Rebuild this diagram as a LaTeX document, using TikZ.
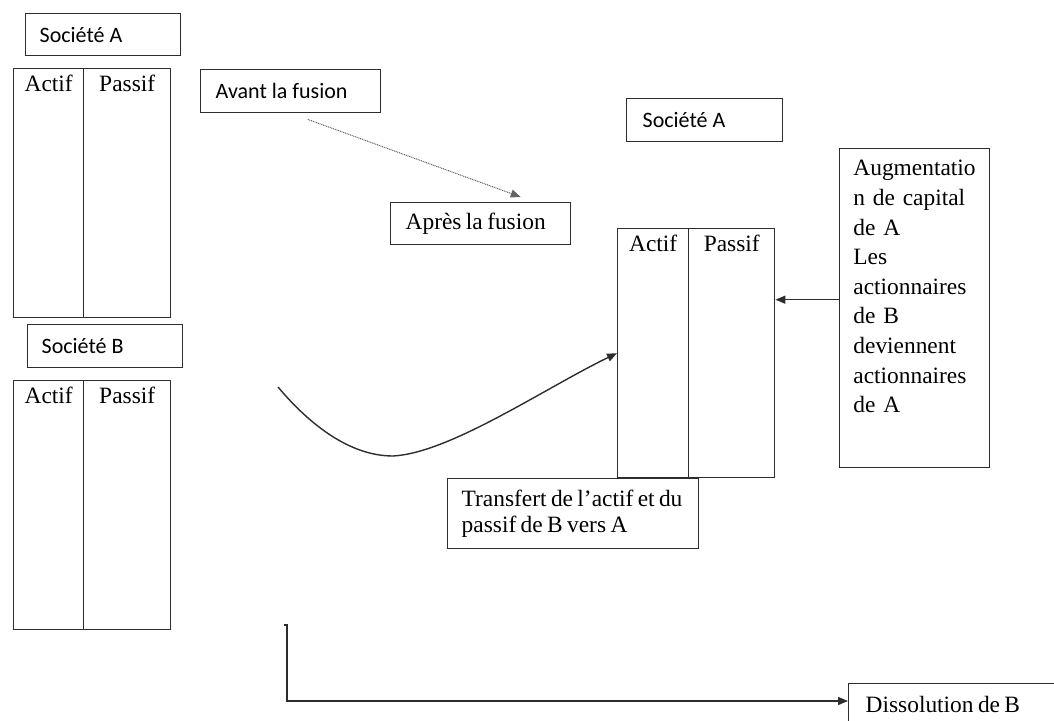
\documentclass[tikz,border=0pt]{standalone}
\usepackage{fontspec}
\setmainfont{Liberation Serif}
\newfontfamily\calib{Carlito}
\newfontfamily\serre[WordSpace=0.75]{Liberation Serif}
\usetikzlibrary{arrows.meta,calc}
\definecolor{TraitNoir}{RGB}{45,45,45}
\definecolor{TraitGris}{RGB}{100,100,100}
\newcommand{\serifsz}{\fontsize{11.7}{13.4}\selectfont}
\tikzset{
  ln/.style={draw=TraitNoir,line width=0.7pt},
  sbox/.style={ln,anchor=north west,inner ysep=0pt,align=flush left,font=\calib\fontsize{11}{13}\selectfont},
  tbox/.style={ln,anchor=north west,inner ysep=0pt,align=flush left,font=\serre\serifsz},
  col/.style={ln,anchor=north west,inner sep=0pt,minimum height=124.5pt},
  colhead/.style={anchor=north,inner sep=0pt,yshift=-3.5pt,font=\serifsz},
  arr/.style={-{Triangle[length=5pt,width=4pt]},TraitNoir,line width=0.7pt},
  darr/.style={-{Triangle[length=5pt,width=4pt]},TraitGris,line width=0.5pt,dash pattern=on 0.5pt off 0.4pt},
}
\begin{document}
\begin{tikzpicture}[x=0.5pt,y=-0.5pt]
    \useasboundingbox (0,0) rectangle (1054,721);
    %% Avant la fusion
    \node[sbox,inner xsep=7pt,text width=63.5pt,minimum height=21pt] (titreA) at (25,13) {Société A};
    \node[col,minimum width=35pt,label={[colhead]north:Actif}] (actifA) at (13,68) {};
    \node[col,minimum width=43.5pt,label={[colhead]north:Passif}] (passifA) at (83,68) {};
    \node[sbox,inner xsep=7pt,text width=63.5pt,minimum height=21.5pt] (titreB) at (27,324) {Société B};
    \node[col,minimum width=35pt,label={[colhead]north:Actif}] (actifB) at (13,380) {};
    \node[col,minimum width=43.5pt,label={[colhead]north:Passif}] (passifB) at (83,380) {};
    \node[sbox,inner xsep=7.5pt,text width=75pt,minimum height=21.5pt] (avant) at (200,69) {Avant la fusion};
    %% Apres la fusion
    \node[tbox,inner xsep=7.5pt,text width=75pt,minimum height=21pt] (apres) at (390,202) {Après la fusion};
    \node[sbox,inner xsep=8pt,text width=62pt,minimum height=21.5pt] (titreR) at (626,98) {Société A};
    \node[col,minimum width=35.5pt,label={[colhead]north:Actif}] (actifR) at (617,228) {};
    \node[col,minimum width=43pt,label={[colhead]north:Passif}] (passifR) at (688,228) {};
    \node[ln,anchor=north west,inner sep=0pt,minimum width=75pt,minimum height=159.5pt] (augbox) at (839,148) {};
    \node[anchor=north west,inner sep=0pt,text width=61pt,align=left,font=\fontsize{11.7}{14.8}\selectfont]
      (augtxt) at ([shift={(7pt,-6pt)}]augbox.north west)
      {Augmentatio\\ \makebox[61pt][s]{n de capital}\\ de A\\ Les\\ actionnaires\\
       \makebox[61pt][s]{de B}\\ deviennent\\ actionnaires\\ de A};
    \node[tbox,inner xsep=7pt,text width=111.5pt,minimum height=35pt] (transfert) at (447,478)
      {\mbox{Transfert de l’actif et du}\\ passif de B vers A};
    \node[tbox,inner xsep=8.5pt,text width=89pt,minimum height=21pt] (dissol) at (848,683) {Dissolution de B};
    %% Free ends
    \coordinate (curveStart) at (278,387);
    \coordinate (dissTop) at (284,625);
    \coordinate (dissCorner) at (287,701);
    %% Arrows
    \draw[darr] ($(avant.south)+(17,6)$) -- ($(apres.north)+(40,-5)$);
    \draw[arr] (curveStart) .. controls (310,425) and (350,456) .. (393,456)
      .. controls (450,453) and (545,388) .. (actifR.west);
    \draw[arr] ([yshift=4.25pt]augbox.west) -- ([yshift=4.25pt]augbox.west -| passifR.east);
    \draw[arr] (dissTop) -- (dissTop -| dissCorner) -- (dissCorner) -- (dissCorner -| dissol.west);
  \end{tikzpicture}
\end{document}
